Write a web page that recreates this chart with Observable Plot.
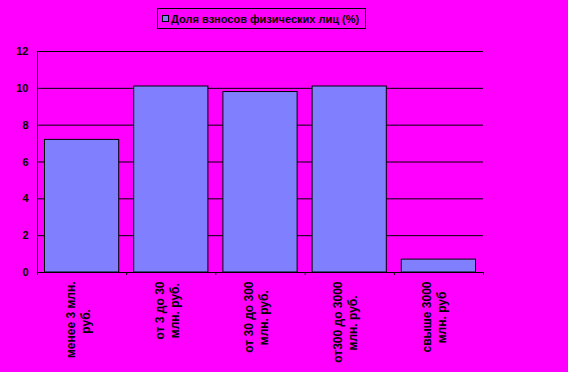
<!DOCTYPE html>
<html>
<head>
<meta charset="utf-8">
<script src="https://cdn.jsdelivr.net/npm/d3@7"></script>
<script src="https://cdn.jsdelivr.net/npm/@observablehq/plot@0.6"></script>
<style>
  html, body { margin: 0; padding: 0; background: #FF00FF; }
  #wrap { position: relative; width: 568px; height: 372px; overflow: hidden; }
  #legend { position: absolute; left: 157px; top: 8px; width: 209px; height: 21px;
    border: 1px solid #000; font: bold 11px "Liberation Sans", Arial, sans-serif; color: #000;
    display: flex; align-items: center; box-sizing: border-box; padding-left: 4px; white-space: nowrap; }
  #legend .sw { width: 7px; height: 7px; background: #8080FF; border: 1px solid #000; margin-right: 2px; box-sizing: border-box; }
</style>
</head>
<body>
<div id="wrap">
  <div id="legend"><span class="sw"></span><span id="legtext"></span></div>
</div>
<script>
const seriesName = "Доля взносов физических лиц (%)";
const labelLine1 = ["менее 3 млн.", "от 3 до 30", "от 30 до 300", "от300 до 3000", "свыше 3000"];
const labelLine2 = ["руб.", "млн. руб.", "млн. руб.", "млн. руб.", "млн. руб"];
const values = [7.2, 10.1, 9.8, 10.1, 0.7];
const yTicks = [0, 2, 4, 6, 8, 10, 12];

document.getElementById("legtext").textContent = seriesName;

const data = values.map((v, i) => ({i, l1: labelLine1[i], l2: labelLine2[i], value: v}));
const boundaries = d3.range(values.length + 1);

// measure label lines so the shorter line is centred on the longer one
const fontSize = 12, letterSp = 0.4;
const ctx = document.createElement("canvas").getContext("2d");
ctx.font = `bold ${fontSize}px 'Liberation Sans', Arial, sans-serif`;
const measure = s => ctx.measureText(s).width + letterSp * s.length;

const labelStyle = {frameAnchor: "bottom", rotate: -90, textAnchor: "end", fill: "#000", fontSize, fontWeight: "bold", letterSpacing: `${letterSp}px`};
const labelMarks = data.flatMap(d => {
  const w1 = measure(d.l1), w2 = measure(d.l2), m = Math.max(w1, w2);
  return [
    Plot.text([d], {x: e => e.i + 0.5, text: "l1", dx: -7.5, dy: 9 + (m - w1) / 2, ...labelStyle}),
    Plot.text([d], {x: e => e.i + 0.5, text: "l2", dx: 7.5, dy: 9 + (m - w2) / 2, ...labelStyle})
  ];
});

const chart = Plot.plot({
  width: 568,
  height: 372,
  marginLeft: 37,
  marginRight: 85,
  marginTop: 51,
  marginBottom: 100,
  style: {background: "transparent", fontFamily: "'Liberation Sans', Arial, sans-serif", fontSize: "10px", color: "#000"},
  x: {domain: [0, values.length], label: null},
  y: {domain: [0, 12], label: null},
  marks: [
    Plot.gridY(yTicks, {stroke: "#000", strokeOpacity: 1, strokeWidth: 1}),
    Plot.rectY(data, {x1: "i", x2: d => d.i + 1, y: "value", fill: "#8080FF", stroke: "#000", strokeWidth: 1, insetLeft: 7.5, insetRight: 7.5}),
    Plot.axisY({ticks: yTicks, tickSize: 0, tickPadding: 9, fontWeight: "bold", fontSize: 11, fill: "#000", label: null}),
    Plot.axisX({ticks: boundaries, tickSize: 3, tickFormat: () => "", stroke: "#000", label: null}),
    Plot.ruleY([0], {stroke: "#000"}),
    Plot.ruleX([0], {stroke: "#000"}),
    ...labelMarks
  ]
});
document.getElementById("wrap").appendChild(chart);
</script>
</body>
</html>
